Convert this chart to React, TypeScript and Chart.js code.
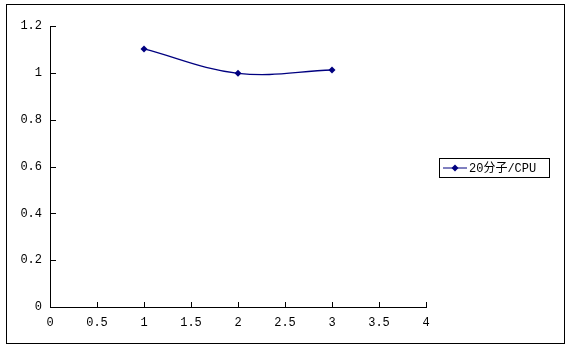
import React, { useEffect, useRef } from "react";
import { Chart, registerables } from "chart.js";

Chart.register(...registerables);

const seriesName = "20分子/CPU";
const xValues = [1, 2, 3];
const yValues = [1.102, 0.998, 1.012];
const FONT = "'Liberation Mono', 'Noto Sans CJK SC', monospace";

const fmt = (v: any) => String(Math.round(Number(v) * 10) / 10);

const framePlugin = {
  id: "frame",
  afterDraw(chart: any) {
    const ctx = chart.ctx;
    const xs = chart.scales.x;
    const ys = chart.scales.y;
    const ca = chart.chartArea;
    ctx.save();
    ctx.strokeStyle = "#000";
    ctx.lineWidth = 1;
    ctx.strokeRect(6.5, 4.5, 558, 339);
    ctx.beginPath();
    ctx.moveTo(Math.round(ca.left) + 0.5, ca.top);
    ctx.lineTo(Math.round(ca.left) + 0.5, Math.round(ca.bottom) + 0.5);
    ctx.lineTo(ca.right, Math.round(ca.bottom) + 0.5);
    ctx.stroke();
    ctx.beginPath();
    ys.ticks.forEach((t: any) => {
      const y = Math.round(ys.getPixelForValue(t.value)) + 0.5;
      ctx.moveTo(Math.round(ca.left), y);
      ctx.lineTo(Math.round(ca.left) + 6, y);
    });
    xs.ticks.forEach((t: any) => {
      const x = Math.round(xs.getPixelForValue(t.value)) + 0.5;
      ctx.moveTo(x, Math.round(ca.bottom) + 1);
      ctx.lineTo(x, Math.round(ca.bottom) - 5);
    });
    ctx.stroke();
    const lx = 439.5, ly = 158.5, lw = 110, lh = 19;
    ctx.strokeRect(lx, ly, lw, lh);
    const my = ly + lh / 2;
    ctx.strokeStyle = "#000080";
    ctx.beginPath();
    ctx.moveTo(443, my);
    ctx.lineTo(467, my);
    ctx.stroke();
    ctx.fillStyle = "#000080";
    ctx.beginPath();
    ctx.moveTo(455, my - 3.5);
    ctx.lineTo(458.5, my);
    ctx.lineTo(455, my + 3.5);
    ctx.lineTo(451.5, my);
    ctx.closePath();
    ctx.fill();
    ctx.fillStyle = "#000";
    ctx.font = "12px " + FONT;
    ctx.textBaseline = "middle";
    ctx.textAlign = "left";
    ctx.fillText(seriesName, 469, my + 1);
    ctx.restore();
  },
};

export default function App() {
  const ref = useRef<HTMLCanvasElement | null>(null);
  useEffect(() => {
    document.body.style.margin = "0";
    const chart = new Chart(ref.current as HTMLCanvasElement, {
      type: "scatter",
      data: {
        datasets: [
          {
            label: seriesName,
            data: xValues.map((x, i) => ({ x, y: yValues[i] })),
            showLine: true,
            borderColor: "#000080",
            backgroundColor: "#000080",
            borderWidth: 1.3,
            tension: 0.38,
            pointStyle: "rectRot",
            pointRadius: 3.5,
            pointBorderWidth: 0,
          },
        ],
      },
      options: {
        animation: false,
        responsive: false,
        layout: { padding: { left: 0, top: 26, right: 143, bottom: 20 } },
        plugins: { legend: { display: false }, tooltip: { enabled: false } },
        scales: {
          x: {
            type: "linear",
            min: 0,
            max: 4,
            grid: { display: false, drawTicks: false },
            border: { display: false },
            ticks: {
              stepSize: 0.5,
              padding: 9,
              color: "#000",
              maxRotation: 0,
              font: { family: FONT, size: 12 },
              callback: fmt,
            },
            afterFit(s: any) {
              s.height = 26;
            },
          },
          y: {
            type: "linear",
            min: 0,
            max: 1.2,
            grid: { display: false, drawTicks: false },
            border: { display: false },
            ticks: {
              stepSize: 0.2,
              padding: 8,
              color: "#000",
              font: { family: FONT, size: 12 },
              callback: fmt,
            },
            afterFit(s: any) {
              s.width = 50;
            },
          },
        },
      },
      plugins: [framePlugin],
    } as any);
    return () => chart.destroy();
  }, []);
  return (
    <div style={{ width: 569, height: 353, background: "#fff" }}>
      <canvas ref={ref} width={569} height={353} />
    </div>
  );
}
